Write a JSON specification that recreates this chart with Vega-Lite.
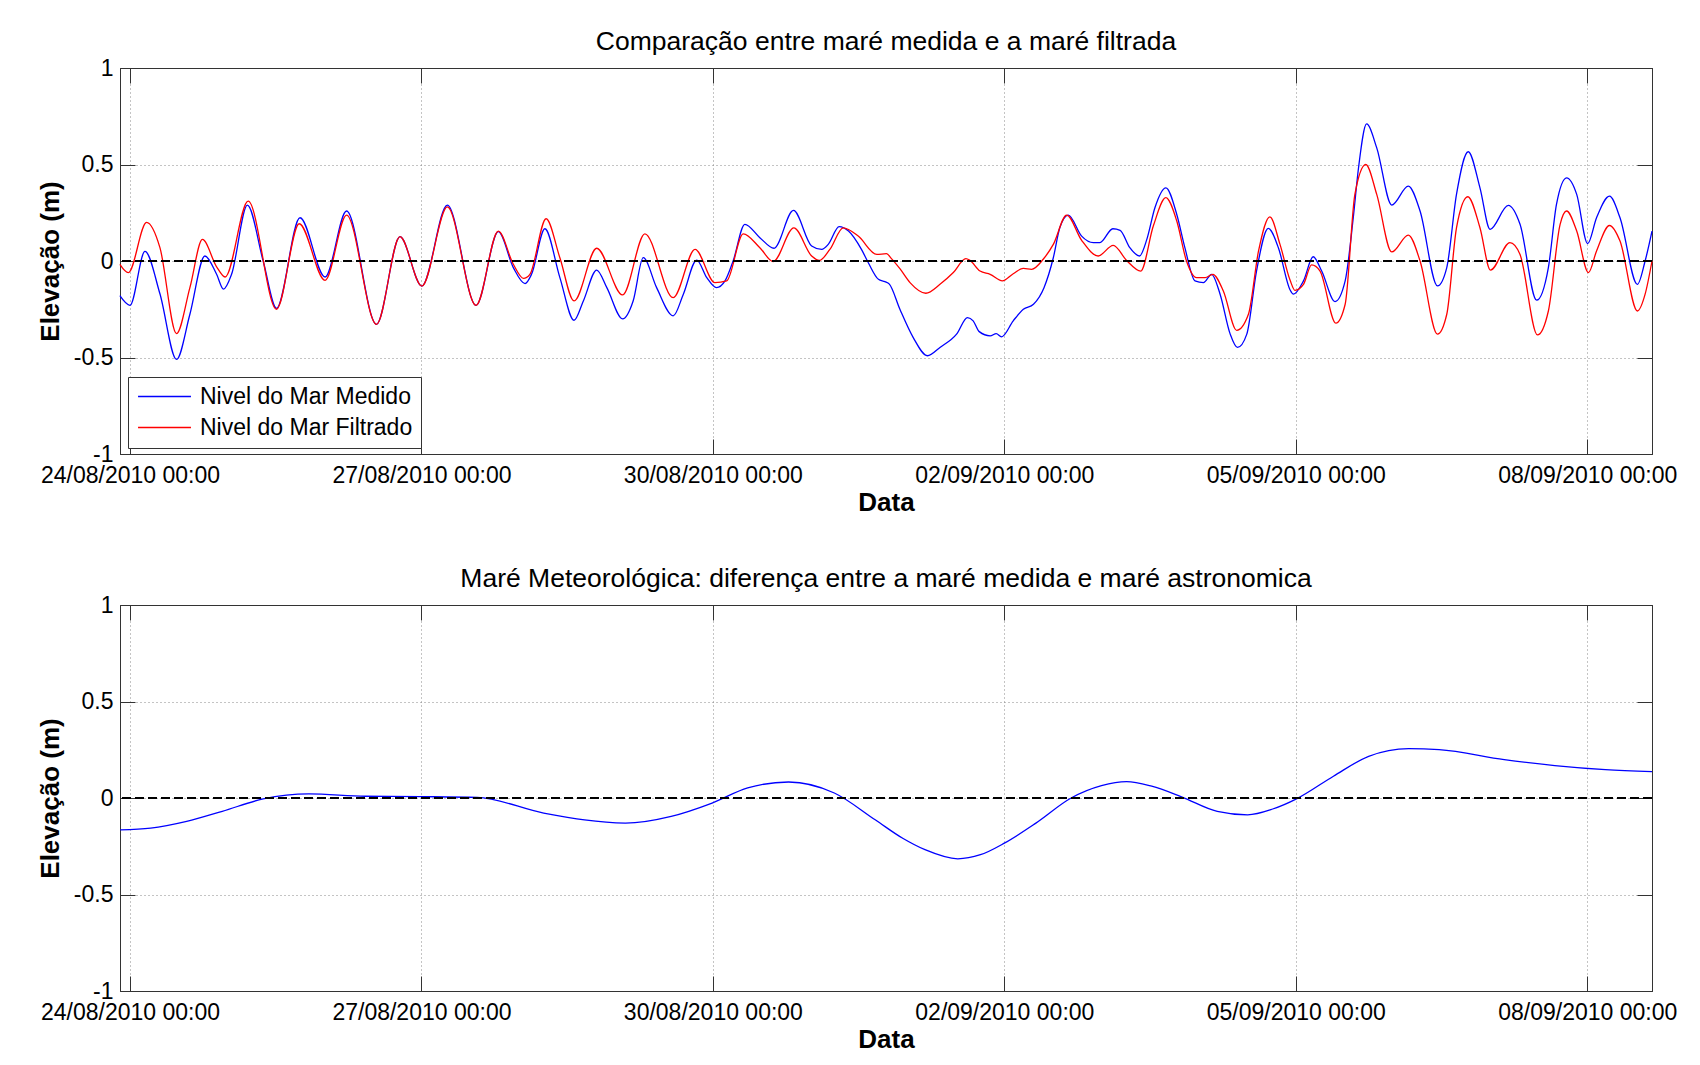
{
  "$schema": "https://vega.github.io/schema/vega-lite/v6.json",
  "padding": {"left": 36, "top": 28, "right": 5, "bottom": 5},
  "background": "white",
  "bounds": "flush",
  "spacing": 151,
  "datasets": {
    "top": [
      {"t": "2010-08-23T21:30", "v": -0.18, "s": "Nivel do Mar Medido"},
      {"t": "2010-08-24T00:00", "v": -0.23, "s": "Nivel do Mar Medido"},
      {"t": "2010-08-24T03:42", "v": 0.05, "s": "Nivel do Mar Medido"},
      {"t": "2010-08-24T07:24", "v": -0.17, "s": "Nivel do Mar Medido"},
      {"t": "2010-08-24T11:30", "v": -0.51, "s": "Nivel do Mar Medido"},
      {"t": "2010-08-24T14:48", "v": -0.276, "s": "Nivel do Mar Medido"},
      {"t": "2010-08-24T18:30", "v": 0.026, "s": "Nivel do Mar Medido"},
      {"t": "2010-08-24T21:24", "v": -0.069, "s": "Nivel do Mar Medido"},
      {"t": "2010-08-24T23:06", "v": -0.146, "s": "Nivel do Mar Medido"},
      {"t": "2010-08-25T01:06", "v": -0.069, "s": "Nivel do Mar Medido"},
      {"t": "2010-08-25T05:00", "v": 0.29, "s": "Nivel do Mar Medido"},
      {"t": "2010-08-25T08:54", "v": 0.0, "s": "Nivel do Mar Medido"},
      {"t": "2010-08-25T12:12", "v": -0.245, "s": "Nivel do Mar Medido"},
      {"t": "2010-08-25T18:00", "v": 0.224, "s": "Nivel do Mar Medido"},
      {"t": "2010-08-26T00:12", "v": -0.083, "s": "Nivel do Mar Medido"},
      {"t": "2010-08-26T05:30", "v": 0.259, "s": "Nivel do Mar Medido"},
      {"t": "2010-08-26T12:54", "v": -0.328, "s": "Nivel do Mar Medido"},
      {"t": "2010-08-26T18:42", "v": 0.126, "s": "Nivel do Mar Medido"},
      {"t": "2010-08-27T00:06", "v": -0.13, "s": "Nivel do Mar Medido"},
      {"t": "2010-08-27T06:24", "v": 0.29, "s": "Nivel do Mar Medido"},
      {"t": "2010-08-27T13:30", "v": -0.23, "s": "Nivel do Mar Medido"},
      {"t": "2010-08-27T19:00", "v": 0.152, "s": "Nivel do Mar Medido"},
      {"t": "2010-08-27T22:42", "v": -0.034, "s": "Nivel do Mar Medido"},
      {"t": "2010-08-28T01:36", "v": -0.117, "s": "Nivel do Mar Medido"},
      {"t": "2010-08-28T03:12", "v": -0.069, "s": "Nivel do Mar Medido"},
      {"t": "2010-08-28T06:30", "v": 0.167, "s": "Nivel do Mar Medido"},
      {"t": "2010-08-28T10:12", "v": -0.086, "s": "Nivel do Mar Medido"},
      {"t": "2010-08-28T13:42", "v": -0.307, "s": "Nivel do Mar Medido"},
      {"t": "2010-08-28T16:00", "v": -0.207, "s": "Nivel do Mar Medido"},
      {"t": "2010-08-28T19:18", "v": -0.047, "s": "Nivel do Mar Medido"},
      {"t": "2010-08-28T21:48", "v": -0.138, "s": "Nivel do Mar Medido"},
      {"t": "2010-08-29T01:42", "v": -0.3, "s": "Nivel do Mar Medido"},
      {"t": "2010-08-29T04:18", "v": -0.207, "s": "Nivel do Mar Medido"},
      {"t": "2010-08-29T06:48", "v": 0.017, "s": "Nivel do Mar Medido"},
      {"t": "2010-08-29T10:06", "v": -0.138, "s": "Nivel do Mar Medido"},
      {"t": "2010-08-29T14:12", "v": -0.284, "s": "Nivel do Mar Medido"},
      {"t": "2010-08-29T16:42", "v": -0.172, "s": "Nivel do Mar Medido"},
      {"t": "2010-08-29T20:00", "v": 0.005, "s": "Nivel do Mar Medido"},
      {"t": "2010-08-29T22:30", "v": -0.086, "s": "Nivel do Mar Medido"},
      {"t": "2010-08-30T00:54", "v": -0.138, "s": "Nivel do Mar Medido"},
      {"t": "2010-08-30T03:00", "v": -0.103, "s": "Nivel do Mar Medido"},
      {"t": "2010-08-30T05:00", "v": 0.0, "s": "Nivel do Mar Medido"},
      {"t": "2010-08-30T07:54", "v": 0.19, "s": "Nivel do Mar Medido"},
      {"t": "2010-08-30T11:36", "v": 0.121, "s": "Nivel do Mar Medido"},
      {"t": "2010-08-30T15:06", "v": 0.066, "s": "Nivel do Mar Medido"},
      {"t": "2010-08-30T19:54", "v": 0.262, "s": "Nivel do Mar Medido"},
      {"t": "2010-08-31T00:24", "v": 0.078, "s": "Nivel do Mar Medido"},
      {"t": "2010-08-31T02:54", "v": 0.06, "s": "Nivel do Mar Medido"},
      {"t": "2010-08-31T04:30", "v": 0.086, "s": "Nivel do Mar Medido"},
      {"t": "2010-08-31T07:12", "v": 0.178, "s": "Nivel do Mar Medido"},
      {"t": "2010-08-31T09:30", "v": 0.155, "s": "Nivel do Mar Medido"},
      {"t": "2010-08-31T12:42", "v": 0.06, "s": "Nivel do Mar Medido"},
      {"t": "2010-08-31T14:24", "v": -0.009, "s": "Nivel do Mar Medido"},
      {"t": "2010-08-31T16:54", "v": -0.095, "s": "Nivel do Mar Medido"},
      {"t": "2010-08-31T18:30", "v": -0.107, "s": "Nivel do Mar Medido"},
      {"t": "2010-08-31T19:36", "v": -0.12, "s": "Nivel do Mar Medido"},
      {"t": "2010-08-31T22:12", "v": -0.25, "s": "Nivel do Mar Medido"},
      {"t": "2010-09-01T01:30", "v": -0.397, "s": "Nivel do Mar Medido"},
      {"t": "2010-09-01T05:00", "v": -0.491, "s": "Nivel do Mar Medido"},
      {"t": "2010-09-01T08:06", "v": -0.448, "s": "Nivel do Mar Medido"},
      {"t": "2010-09-01T12:12", "v": -0.379, "s": "Nivel do Mar Medido"},
      {"t": "2010-09-01T14:54", "v": -0.293, "s": "Nivel do Mar Medido"},
      {"t": "2010-09-01T16:18", "v": -0.31, "s": "Nivel do Mar Medido"},
      {"t": "2010-09-01T17:48", "v": -0.366, "s": "Nivel do Mar Medido"},
      {"t": "2010-09-01T20:30", "v": -0.388, "s": "Nivel do Mar Medido"},
      {"t": "2010-09-01T22:00", "v": -0.376, "s": "Nivel do Mar Medido"},
      {"t": "2010-09-01T23:18", "v": -0.393, "s": "Nivel do Mar Medido"},
      {"t": "2010-09-02T02:12", "v": -0.31, "s": "Nivel do Mar Medido"},
      {"t": "2010-09-02T04:42", "v": -0.25, "s": "Nivel do Mar Medido"},
      {"t": "2010-09-02T07:12", "v": -0.224, "s": "Nivel do Mar Medido"},
      {"t": "2010-09-02T09:48", "v": -0.138, "s": "Nivel do Mar Medido"},
      {"t": "2010-09-02T12:06", "v": 0.017, "s": "Nivel do Mar Medido"},
      {"t": "2010-09-02T13:42", "v": 0.172, "s": "Nivel do Mar Medido"},
      {"t": "2010-09-02T15:48", "v": 0.238, "s": "Nivel do Mar Medido"},
      {"t": "2010-09-02T19:06", "v": 0.129, "s": "Nivel do Mar Medido"},
      {"t": "2010-09-02T22:00", "v": 0.095, "s": "Nivel do Mar Medido"},
      {"t": "2010-09-02T23:36", "v": 0.095, "s": "Nivel do Mar Medido"},
      {"t": "2010-09-03T02:48", "v": 0.167, "s": "Nivel do Mar Medido"},
      {"t": "2010-09-03T04:36", "v": 0.159, "s": "Nivel do Mar Medido"},
      {"t": "2010-09-03T07:00", "v": 0.069, "s": "Nivel do Mar Medido"},
      {"t": "2010-09-03T09:24", "v": 0.026, "s": "Nivel do Mar Medido"},
      {"t": "2010-09-03T11:12", "v": 0.112, "s": "Nivel do Mar Medido"},
      {"t": "2010-09-03T13:12", "v": 0.276, "s": "Nivel do Mar Medido"},
      {"t": "2010-09-03T15:54", "v": 0.379, "s": "Nivel do Mar Medido"},
      {"t": "2010-09-03T18:36", "v": 0.241, "s": "Nivel do Mar Medido"},
      {"t": "2010-09-03T20:36", "v": 0.069, "s": "Nivel do Mar Medido"},
      {"t": "2010-09-03T23:06", "v": -0.103, "s": "Nivel do Mar Medido"},
      {"t": "2010-09-04T01:12", "v": -0.112, "s": "Nivel do Mar Medido"},
      {"t": "2010-09-04T03:12", "v": -0.069, "s": "Nivel do Mar Medido"},
      {"t": "2010-09-04T05:18", "v": -0.172, "s": "Nivel do Mar Medido"},
      {"t": "2010-09-04T07:48", "v": -0.379, "s": "Nivel do Mar Medido"},
      {"t": "2010-09-04T09:36", "v": -0.448, "s": "Nivel do Mar Medido"},
      {"t": "2010-09-04T11:54", "v": -0.379, "s": "Nivel do Mar Medido"},
      {"t": "2010-09-04T14:18", "v": -0.052, "s": "Nivel do Mar Medido"},
      {"t": "2010-09-04T17:12", "v": 0.169, "s": "Nivel do Mar Medido"},
      {"t": "2010-09-04T19:42", "v": 0.069, "s": "Nivel do Mar Medido"},
      {"t": "2010-09-04T22:36", "v": -0.15, "s": "Nivel do Mar Medido"},
      {"t": "2010-09-04T23:24", "v": -0.172, "s": "Nivel do Mar Medido"},
      {"t": "2010-09-05T01:54", "v": -0.103, "s": "Nivel do Mar Medido"},
      {"t": "2010-09-05T04:18", "v": 0.022, "s": "Nivel do Mar Medido"},
      {"t": "2010-09-05T06:24", "v": -0.052, "s": "Nivel do Mar Medido"},
      {"t": "2010-09-05T09:42", "v": -0.21, "s": "Nivel do Mar Medido"},
      {"t": "2010-09-05T12:12", "v": -0.103, "s": "Nivel do Mar Medido"},
      {"t": "2010-09-05T14:12", "v": 0.224, "s": "Nivel do Mar Medido"},
      {"t": "2010-09-05T15:30", "v": 0.483, "s": "Nivel do Mar Medido"},
      {"t": "2010-09-05T17:30", "v": 0.71, "s": "Nivel do Mar Medido"},
      {"t": "2010-09-05T20:00", "v": 0.586, "s": "Nivel do Mar Medido"},
      {"t": "2010-09-05T23:42", "v": 0.29, "s": "Nivel do Mar Medido"},
      {"t": "2010-09-06T03:48", "v": 0.388, "s": "Nivel do Mar Medido"},
      {"t": "2010-09-06T06:42", "v": 0.259, "s": "Nivel do Mar Medido"},
      {"t": "2010-09-06T11:00", "v": -0.129, "s": "Nivel do Mar Medido"},
      {"t": "2010-09-06T13:18", "v": -0.034, "s": "Nivel do Mar Medido"},
      {"t": "2010-09-06T15:42", "v": 0.345, "s": "Nivel do Mar Medido"},
      {"t": "2010-09-06T18:36", "v": 0.566, "s": "Nivel do Mar Medido"},
      {"t": "2010-09-06T21:30", "v": 0.379, "s": "Nivel do Mar Medido"},
      {"t": "2010-09-07T00:00", "v": 0.164, "s": "Nivel do Mar Medido"},
      {"t": "2010-09-07T04:30", "v": 0.288, "s": "Nivel do Mar Medido"},
      {"t": "2010-09-07T07:24", "v": 0.19, "s": "Nivel do Mar Medido"},
      {"t": "2010-09-07T11:30", "v": -0.203, "s": "Nivel do Mar Medido"},
      {"t": "2010-09-07T14:24", "v": -0.034, "s": "Nivel do Mar Medido"},
      {"t": "2010-09-07T16:24", "v": 0.293, "s": "Nivel do Mar Medido"},
      {"t": "2010-09-07T18:54", "v": 0.431, "s": "Nivel do Mar Medido"},
      {"t": "2010-09-07T21:24", "v": 0.345, "s": "Nivel do Mar Medido"},
      {"t": "2010-09-08T00:06", "v": 0.09, "s": "Nivel do Mar Medido"},
      {"t": "2010-09-08T02:18", "v": 0.224, "s": "Nivel do Mar Medido"},
      {"t": "2010-09-08T05:30", "v": 0.336, "s": "Nivel do Mar Medido"},
      {"t": "2010-09-08T08:06", "v": 0.224, "s": "Nivel do Mar Medido"},
      {"t": "2010-09-08T12:24", "v": -0.121, "s": "Nivel do Mar Medido"},
      {"t": "2010-09-08T14:18", "v": 0.0, "s": "Nivel do Mar Medido"},
      {"t": "2010-09-08T16:00", "v": 0.155, "s": "Nivel do Mar Medido"},

      {"t": "2010-08-23T21:30", "v": -0.017, "s": "Nivel do Mar Filtrado"},
      {"t": "2010-08-23T23:36", "v": -0.06, "s": "Nivel do Mar Filtrado"},
      {"t": "2010-08-24T04:06", "v": 0.2, "s": "Nivel do Mar Filtrado"},
      {"t": "2010-08-24T07:24", "v": 0.069, "s": "Nivel do Mar Filtrado"},
      {"t": "2010-08-24T11:30", "v": -0.376, "s": "Nivel do Mar Filtrado"},
      {"t": "2010-08-24T14:48", "v": -0.138, "s": "Nivel do Mar Filtrado"},
      {"t": "2010-08-24T17:54", "v": 0.112, "s": "Nivel do Mar Filtrado"},
      {"t": "2010-08-24T21:24", "v": -0.03, "s": "Nivel do Mar Filtrado"},
      {"t": "2010-08-24T23:30", "v": -0.083, "s": "Nivel do Mar Filtrado"},
      {"t": "2010-08-25T05:12", "v": 0.31, "s": "Nivel do Mar Filtrado"},
      {"t": "2010-08-25T12:12", "v": -0.25, "s": "Nivel do Mar Filtrado"},
      {"t": "2010-08-25T17:48", "v": 0.193, "s": "Nivel do Mar Filtrado"},
      {"t": "2010-08-26T00:12", "v": -0.1, "s": "Nivel do Mar Filtrado"},
      {"t": "2010-08-26T05:30", "v": 0.238, "s": "Nivel do Mar Filtrado"},
      {"t": "2010-08-26T12:54", "v": -0.328, "s": "Nivel do Mar Filtrado"},
      {"t": "2010-08-26T18:42", "v": 0.126, "s": "Nivel do Mar Filtrado"},
      {"t": "2010-08-27T00:06", "v": -0.13, "s": "Nivel do Mar Filtrado"},
      {"t": "2010-08-27T06:24", "v": 0.28, "s": "Nivel do Mar Filtrado"},
      {"t": "2010-08-27T13:30", "v": -0.23, "s": "Nivel do Mar Filtrado"},
      {"t": "2010-08-27T19:00", "v": 0.155, "s": "Nivel do Mar Filtrado"},
      {"t": "2010-08-27T22:42", "v": -0.017, "s": "Nivel do Mar Filtrado"},
      {"t": "2010-08-28T01:12", "v": -0.09, "s": "Nivel do Mar Filtrado"},
      {"t": "2010-08-28T02:48", "v": -0.069, "s": "Nivel do Mar Filtrado"},
      {"t": "2010-08-28T06:48", "v": 0.219, "s": "Nivel do Mar Filtrado"},
      {"t": "2010-08-28T10:12", "v": 0.017, "s": "Nivel do Mar Filtrado"},
      {"t": "2010-08-28T13:42", "v": -0.207, "s": "Nivel do Mar Filtrado"},
      {"t": "2010-08-28T19:18", "v": 0.066, "s": "Nivel do Mar Filtrado"},
      {"t": "2010-08-29T01:42", "v": -0.176, "s": "Nivel do Mar Filtrado"},
      {"t": "2010-08-29T07:12", "v": 0.141, "s": "Nivel do Mar Filtrado"},
      {"t": "2010-08-29T14:12", "v": -0.19, "s": "Nivel do Mar Filtrado"},
      {"t": "2010-08-29T19:36", "v": 0.06, "s": "Nivel do Mar Filtrado"},
      {"t": "2010-08-30T00:30", "v": -0.112, "s": "Nivel do Mar Filtrado"},
      {"t": "2010-08-30T03:24", "v": -0.103, "s": "Nivel do Mar Filtrado"},
      {"t": "2010-08-30T07:30", "v": 0.141, "s": "Nivel do Mar Filtrado"},
      {"t": "2010-08-30T11:36", "v": 0.069, "s": "Nivel do Mar Filtrado"},
      {"t": "2010-08-30T14:54", "v": -0.003, "s": "Nivel do Mar Filtrado"},
      {"t": "2010-08-30T20:00", "v": 0.172, "s": "Nivel do Mar Filtrado"},
      {"t": "2010-08-31T00:24", "v": 0.026, "s": "Nivel do Mar Filtrado"},
      {"t": "2010-08-31T02:18", "v": 0.003, "s": "Nivel do Mar Filtrado"},
      {"t": "2010-08-31T04:54", "v": 0.06, "s": "Nivel do Mar Filtrado"},
      {"t": "2010-08-31T08:12", "v": 0.172, "s": "Nivel do Mar Filtrado"},
      {"t": "2010-08-31T11:54", "v": 0.129, "s": "Nivel do Mar Filtrado"},
      {"t": "2010-08-31T16:30", "v": 0.034, "s": "Nivel do Mar Filtrado"},
      {"t": "2010-08-31T18:54", "v": 0.038, "s": "Nivel do Mar Filtrado"},
      {"t": "2010-08-31T20:00", "v": 0.015, "s": "Nivel do Mar Filtrado"},
      {"t": "2010-08-31T22:12", "v": -0.04, "s": "Nivel do Mar Filtrado"},
      {"t": "2010-09-01T00:42", "v": -0.112, "s": "Nivel do Mar Filtrado"},
      {"t": "2010-09-01T04:36", "v": -0.167, "s": "Nivel do Mar Filtrado"},
      {"t": "2010-09-01T08:06", "v": -0.121, "s": "Nivel do Mar Filtrado"},
      {"t": "2010-09-01T11:24", "v": -0.06, "s": "Nivel do Mar Filtrado"},
      {"t": "2010-09-01T14:30", "v": 0.012, "s": "Nivel do Mar Filtrado"},
      {"t": "2010-09-01T15:30", "v": 0.003, "s": "Nivel do Mar Filtrado"},
      {"t": "2010-09-01T18:00", "v": -0.052, "s": "Nivel do Mar Filtrado"},
      {"t": "2010-09-01T20:30", "v": -0.069, "s": "Nivel do Mar Filtrado"},
      {"t": "2010-09-01T23:30", "v": -0.103, "s": "Nivel do Mar Filtrado"},
      {"t": "2010-09-02T02:12", "v": -0.066, "s": "Nivel do Mar Filtrado"},
      {"t": "2010-09-02T04:42", "v": -0.038, "s": "Nivel do Mar Filtrado"},
      {"t": "2010-09-02T06:45", "v": -0.043, "s": "Nivel do Mar Filtrado"},
      {"t": "2010-09-02T09:36", "v": 0.009, "s": "Nivel do Mar Filtrado"},
      {"t": "2010-09-02T12:06", "v": 0.086, "s": "Nivel do Mar Filtrado"},
      {"t": "2010-09-02T15:24", "v": 0.238, "s": "Nivel do Mar Filtrado"},
      {"t": "2010-09-02T19:06", "v": 0.107, "s": "Nivel do Mar Filtrado"},
      {"t": "2010-09-02T23:12", "v": 0.026, "s": "Nivel do Mar Filtrado"},
      {"t": "2010-09-03T02:54", "v": 0.081, "s": "Nivel do Mar Filtrado"},
      {"t": "2010-09-03T06:12", "v": 0.003, "s": "Nivel do Mar Filtrado"},
      {"t": "2010-09-03T09:42", "v": -0.052, "s": "Nivel do Mar Filtrado"},
      {"t": "2010-09-03T12:48", "v": 0.181, "s": "Nivel do Mar Filtrado"},
      {"t": "2010-09-03T15:54", "v": 0.328, "s": "Nivel do Mar Filtrado"},
      {"t": "2010-09-03T18:36", "v": 0.207, "s": "Nivel do Mar Filtrado"},
      {"t": "2010-09-03T21:00", "v": 0.0, "s": "Nivel do Mar Filtrado"},
      {"t": "2010-09-03T23:30", "v": -0.086, "s": "Nivel do Mar Filtrado"},
      {"t": "2010-09-04T01:36", "v": -0.086, "s": "Nivel do Mar Filtrado"},
      {"t": "2010-09-04T03:30", "v": -0.069, "s": "Nivel do Mar Filtrado"},
      {"t": "2010-09-04T06:06", "v": -0.155, "s": "Nivel do Mar Filtrado"},
      {"t": "2010-09-04T09:24", "v": -0.359, "s": "Nivel do Mar Filtrado"},
      {"t": "2010-09-04T12:18", "v": -0.276, "s": "Nivel do Mar Filtrado"},
      {"t": "2010-09-04T14:48", "v": 0.052, "s": "Nivel do Mar Filtrado"},
      {"t": "2010-09-04T17:36", "v": 0.229, "s": "Nivel do Mar Filtrado"},
      {"t": "2010-09-04T20:06", "v": 0.086, "s": "Nivel do Mar Filtrado"},
      {"t": "2010-09-04T22:36", "v": -0.1, "s": "Nivel do Mar Filtrado"},
      {"t": "2010-09-04T23:48", "v": -0.152, "s": "Nivel do Mar Filtrado"},
      {"t": "2010-09-05T01:54", "v": -0.121, "s": "Nivel do Mar Filtrado"},
      {"t": "2010-09-05T03:54", "v": -0.02, "s": "Nivel do Mar Filtrado"},
      {"t": "2010-09-05T06:00", "v": -0.052, "s": "Nivel do Mar Filtrado"},
      {"t": "2010-09-05T09:54", "v": -0.322, "s": "Nivel do Mar Filtrado"},
      {"t": "2010-09-05T12:12", "v": -0.224, "s": "Nivel do Mar Filtrado"},
      {"t": "2010-09-05T14:36", "v": 0.345, "s": "Nivel do Mar Filtrado"},
      {"t": "2010-09-05T17:18", "v": 0.5, "s": "Nivel do Mar Filtrado"},
      {"t": "2010-09-05T20:00", "v": 0.345, "s": "Nivel do Mar Filtrado"},
      {"t": "2010-09-05T23:42", "v": 0.047, "s": "Nivel do Mar Filtrado"},
      {"t": "2010-09-06T03:48", "v": 0.134, "s": "Nivel do Mar Filtrado"},
      {"t": "2010-09-06T06:42", "v": 0.0, "s": "Nivel do Mar Filtrado"},
      {"t": "2010-09-06T11:00", "v": -0.379, "s": "Nivel do Mar Filtrado"},
      {"t": "2010-09-06T13:18", "v": -0.276, "s": "Nivel do Mar Filtrado"},
      {"t": "2010-09-06T15:42", "v": 0.172, "s": "Nivel do Mar Filtrado"},
      {"t": "2010-09-06T18:30", "v": 0.333, "s": "Nivel do Mar Filtrado"},
      {"t": "2010-09-06T21:30", "v": 0.172, "s": "Nivel do Mar Filtrado"},
      {"t": "2010-09-07T00:06", "v": -0.047, "s": "Nivel do Mar Filtrado"},
      {"t": "2010-09-07T04:54", "v": 0.095, "s": "Nivel do Mar Filtrado"},
      {"t": "2010-09-07T07:24", "v": 0.034, "s": "Nivel do Mar Filtrado"},
      {"t": "2010-09-07T11:42", "v": -0.383, "s": "Nivel do Mar Filtrado"},
      {"t": "2010-09-07T14:24", "v": -0.259, "s": "Nivel do Mar Filtrado"},
      {"t": "2010-09-07T17:18", "v": 0.19, "s": "Nivel do Mar Filtrado"},
      {"t": "2010-09-07T18:54", "v": 0.259, "s": "Nivel do Mar Filtrado"},
      {"t": "2010-09-07T21:24", "v": 0.155, "s": "Nivel do Mar Filtrado"},
      {"t": "2010-09-08T00:18", "v": -0.06, "s": "Nivel do Mar Filtrado"},
      {"t": "2010-09-08T02:18", "v": 0.052, "s": "Nivel do Mar Filtrado"},
      {"t": "2010-09-08T05:30", "v": 0.184, "s": "Nivel do Mar Filtrado"},
      {"t": "2010-09-08T08:06", "v": 0.103, "s": "Nivel do Mar Filtrado"},
      {"t": "2010-09-08T12:24", "v": -0.259, "s": "Nivel do Mar Filtrado"},
      {"t": "2010-09-08T14:18", "v": -0.172, "s": "Nivel do Mar Filtrado"},
      {"t": "2010-09-08T16:00", "v": 0.0, "s": "Nivel do Mar Filtrado"}
    ],
    "bottom": [
      {"t": "2010-08-23T21:36", "v": -0.165},
      {"t": "2010-08-24T05:06", "v": -0.156},
      {"t": "2010-08-24T14:00", "v": -0.121},
      {"t": "2010-08-24T22:48", "v": -0.069},
      {"t": "2010-08-25T08:54", "v": -0.005},
      {"t": "2010-08-25T20:12", "v": 0.021},
      {"t": "2010-08-26T10:06", "v": 0.009},
      {"t": "2010-08-26T23:54", "v": 0.007},
      {"t": "2010-08-27T13:48", "v": 0.003},
      {"t": "2010-08-28T06:12", "v": -0.078},
      {"t": "2010-08-29T02:24", "v": -0.13},
      {"t": "2010-08-29T13:42", "v": -0.095},
      {"t": "2010-08-29T23:48", "v": -0.026},
      {"t": "2010-08-30T08:36", "v": 0.052},
      {"t": "2010-08-30T18:42", "v": 0.083},
      {"t": "2010-08-31T06:00", "v": 0.026},
      {"t": "2010-08-31T16:06", "v": -0.113},
      {"t": "2010-08-31T23:00", "v": -0.21},
      {"t": "2010-09-01T04:24", "v": -0.268},
      {"t": "2010-09-01T12:30", "v": -0.315},
      {"t": "2010-09-01T18:06", "v": -0.294},
      {"t": "2010-09-02T00:00", "v": -0.234},
      {"t": "2010-09-02T07:48", "v": -0.13},
      {"t": "2010-09-02T16:30", "v": 0.0},
      {"t": "2010-09-03T00:00", "v": 0.064},
      {"t": "2010-09-03T06:12", "v": 0.085},
      {"t": "2010-09-03T12:24", "v": 0.061},
      {"t": "2010-09-03T19:54", "v": 0.005},
      {"t": "2010-09-04T04:36", "v": -0.069},
      {"t": "2010-09-04T12:06", "v": -0.087},
      {"t": "2010-09-04T18:18", "v": -0.057},
      {"t": "2010-09-05T00:18", "v": -0.003},
      {"t": "2010-09-05T09:18", "v": 0.113},
      {"t": "2010-09-05T18:00", "v": 0.216},
      {"t": "2010-09-06T03:54", "v": 0.256},
      {"t": "2010-09-06T11:24", "v": 0.251},
      {"t": "2010-09-07T03:30", "v": 0.199},
      {"t": "2010-09-07T16:00", "v": 0.168},
      {"t": "2010-09-08T04:30", "v": 0.147},
      {"t": "2010-09-08T16:00", "v": 0.137}
    ]
  },
  "vconcat": [
    {
      "width": 1532,
      "height": 386,
      "title": {"text": "Comparação entre maré medida e a maré filtrada"},
      "data": {"name": "top"},
      "layer": [
        {
          "mark": {"type": "line", "strokeWidth": 1.3, "interpolate": "monotone"},
          "encoding": {
            "x": {
              "field": "t", "type": "temporal",
              "scale": {"domain": [{"year": 2010, "month": 8, "date": 23, "hours": 21, "minutes": 32}, {"year": 2010, "month": 9, "date": 8, "hours": 16}], "nice": false},
              "axis": {
                "orient": "bottom",
                "values": [{"year": 2010, "month": 8, "date": 24}, {"year": 2010, "month": 8, "date": 27}, {"year": 2010, "month": 8, "date": 30}, {"year": 2010, "month": 9, "date": 2}, {"year": 2010, "month": 9, "date": 5}, {"year": 2010, "month": 9, "date": 8}],
                "format": "%d/%m/%Y %H:%M",
                "title": "Data", "titleY": 48, "titleBaseline": "middle",
                "tickSize": -15, "labelPadding": 25,
                "labelFlush": false, "labelOverlap": false, "labelBound": false,
                "grid": true
              }
            },
            "y": {
              "field": "v", "type": "quantitative",
              "scale": {"domain": [-1, 1], "nice": false},
              "axis": {
                "orient": "left",
                "values": [-1, -0.5, 0, 0.5, 1],
                "labelExpr": "'' + datum.value",
                "title": "Elevação (m)", "titleX": -70, "titleBaseline": "middle", "titleAlign": "center",
                "tickSize": -15, "labelPadding": 22,
                "grid": true
              }
            },
            "color": {
              "field": "s", "type": "nominal",
              "scale": {"domain": ["Nivel do Mar Medido", "Nivel do Mar Filtrado"], "range": ["#0000ff", "#ff0000"]},
              "legend": {
                "title": null, "orient": "none", "legendX": 8, "legendY": 309,
                "strokeColor": "#333", "fillColor": "white", "padding": 8,
                "labelFontSize": 23, "labelColor": "black", "labelLimit": 0,
                "symbolType": "M-5,0H5", "symbolSize": 112, "symbolStrokeWidth": 1.3,
                "symbolOffset": 17, "labelOffset": 24, "rowPadding": 7
              }
            }
          }
        },
        {
          "mark": {"type": "line", "opacity": 0},
          "encoding": {
            "x": {
              "field": "t", "type": "temporal",
              "scale": {"domain": [{"year": 2010, "month": 8, "date": 23, "hours": 21, "minutes": 32}, {"year": 2010, "month": 9, "date": 8, "hours": 16}], "nice": false},
              "axis": {"orient": "top", "values": [{"year": 2010, "month": 8, "date": 24}, {"year": 2010, "month": 8, "date": 27}, {"year": 2010, "month": 8, "date": 30}, {"year": 2010, "month": 9, "date": 2}, {"year": 2010, "month": 9, "date": 5}, {"year": 2010, "month": 9, "date": 8}], "labels": false, "grid": false, "title": null, "tickSize": -15}
            },
            "y": {
              "field": "v", "type": "quantitative",
              "scale": {"domain": [-1, 1], "nice": false},
              "axis": {"orient": "right", "values": [-1, -0.5, 0, 0.5, 1], "labels": false, "grid": false, "title": null, "tickSize": -15}
            }
          }
        },
        {
          "mark": {"type": "rule", "color": "black", "strokeWidth": 2, "strokeDash": [9, 4]},
          "encoding": {"y": {"datum": 0, "type": "quantitative", "axis": null}}
        }
      ]
    },
    {
      "width": 1532,
      "height": 386,
      "title": {"text": "Maré Meteorológica: diferença entre a maré medida e maré astronomica"},
      "data": {"name": "bottom"},
      "layer": [
        {
          "mark": {"type": "line", "strokeWidth": 1.3, "interpolate": "monotone", "color": "#0000ff"},
          "encoding": {
            "x": {
              "field": "t", "type": "temporal",
              "scale": {"domain": [{"year": 2010, "month": 8, "date": 23, "hours": 21, "minutes": 32}, {"year": 2010, "month": 9, "date": 8, "hours": 16}], "nice": false},
              "axis": {
                "orient": "bottom",
                "values": [{"year": 2010, "month": 8, "date": 24}, {"year": 2010, "month": 8, "date": 27}, {"year": 2010, "month": 8, "date": 30}, {"year": 2010, "month": 9, "date": 2}, {"year": 2010, "month": 9, "date": 5}, {"year": 2010, "month": 9, "date": 8}],
                "format": "%d/%m/%Y %H:%M",
                "title": "Data", "titleY": 48, "titleBaseline": "middle",
                "tickSize": -15, "labelPadding": 25,
                "labelFlush": false, "labelOverlap": false, "labelBound": false,
                "grid": true
              }
            },
            "y": {
              "field": "v", "type": "quantitative",
              "scale": {"domain": [-1, 1], "nice": false},
              "axis": {
                "orient": "left",
                "values": [-1, -0.5, 0, 0.5, 1],
                "labelExpr": "'' + datum.value",
                "title": "Elevação (m)", "titleX": -70, "titleBaseline": "middle", "titleAlign": "center",
                "tickSize": -15, "labelPadding": 22,
                "grid": true
              }
            }
          }
        },
        {
          "mark": {"type": "line", "opacity": 0},
          "encoding": {
            "x": {
              "field": "t", "type": "temporal",
              "scale": {"domain": [{"year": 2010, "month": 8, "date": 23, "hours": 21, "minutes": 32}, {"year": 2010, "month": 9, "date": 8, "hours": 16}], "nice": false},
              "axis": {"orient": "top", "values": [{"year": 2010, "month": 8, "date": 24}, {"year": 2010, "month": 8, "date": 27}, {"year": 2010, "month": 8, "date": 30}, {"year": 2010, "month": 9, "date": 2}, {"year": 2010, "month": 9, "date": 5}, {"year": 2010, "month": 9, "date": 8}], "labels": false, "grid": false, "title": null, "tickSize": -15}
            },
            "y": {
              "field": "v", "type": "quantitative",
              "scale": {"domain": [-1, 1], "nice": false},
              "axis": {"orient": "right", "values": [-1, -0.5, 0, 0.5, 1], "labels": false, "grid": false, "title": null, "tickSize": -15}
            }
          }
        },
        {
          "mark": {"type": "rule", "color": "black", "strokeWidth": 2, "strokeDash": [9, 4]},
          "encoding": {"y": {"datum": 0, "type": "quantitative", "axis": null}}
        }
      ]
    }
  ],
  "config": {
    "font": "Liberation Sans",
    "view": {"stroke": "#333"},
    "axis": {
      "labelFont": "Liberation Sans", "labelFontSize": 23, "labelColor": "black",
      "titleFont": "Liberation Sans", "titleFontSize": 26, "titleFontWeight": "bold", "titleColor": "black",
      "domainColor": "#333", "tickColor": "#333",
      "gridColor": "#888", "gridDash": [1, 3], "gridOpacity": 1
    },
    "title": {"font": "Liberation Sans", "fontSize": 26.5, "fontWeight": "normal", "color": "black", "offset": 2},
    "legend": {"labelFont": "Liberation Sans"}
  }
}
